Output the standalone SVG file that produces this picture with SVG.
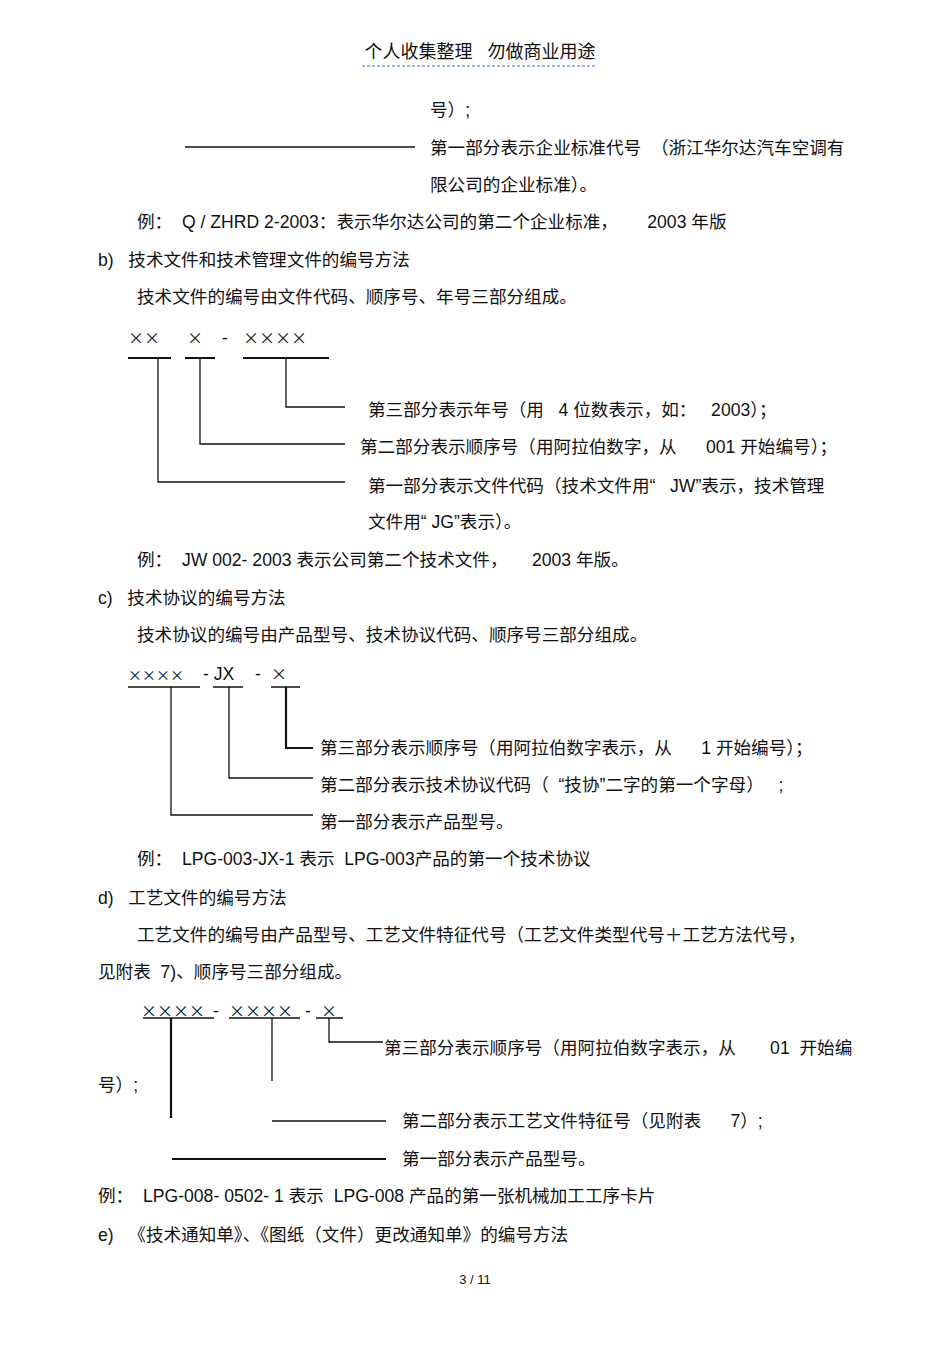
<svg xmlns="http://www.w3.org/2000/svg" width="950" height="1345" viewBox="0 0 950 1345">
<style>
text{font-family:"Liberation Sans","Noto Sans CJK SC",sans-serif;font-size:17.6px;fill:#111;white-space:pre}
.x{font-family:"Noto Sans CJK SC",sans-serif}
.ln{stroke:#111;stroke-width:1.3;fill:none}
.bk{stroke:#111;stroke-width:2.2;fill:none}
</style>
<rect width="950" height="1345" fill="#fff"/>
<g id="header"><text x="480" y="58" text-anchor="middle" style="font-size:18px">个人收集整理   勿做商业用途</text>
<line x1="362" y1="66" x2="597" y2="66" stroke="#4060d0" stroke-width="1" stroke-dasharray="3,2"/></g>
<g id="body" xml:space="preserve">
<text x="430" y="116">号）;</text>
<text x="430" y="154">第一部分表示企业标准代号  （浙江华尔达汽车空调有</text>
<text x="430" y="191">限公司的企业标准）。</text>
<text x="137" y="228">例：  Q / ZHRD 2-2003：表示华尔达公司的第二个企业标准，      2003 年版</text>
<text x="98" y="266">b)   技术文件和技术管理文件的编号方法</text>
<text x="137" y="303">技术文件的编号由文件代码、顺序号、年号三部分组成。</text>
<text class="x" x="128" y="344" style="font-size:16px">××</text>
<text class="x" x="187" y="344" style="font-size:16px">×</text>
<text x="222" y="344">-</text>
<text class="x" x="243" y="344" style="font-size:16px">××××</text>
<text x="368" y="416">第三部分表示年号（用   4 位数表示，如：   2003）；</text>
<text x="360" y="453">第二部分表示顺序号（用阿拉伯数字，从      001 开始编号）；</text>
<text x="368" y="492">第一部分表示文件代码（技术文件用“   JW”表示，技术管理</text>
<text x="368" y="528">文件用“ JG”表示）。</text>
<text x="137" y="566">例：  JW 002- 2003 表示公司第二个技术文件，     2003 年版。</text>
<text x="98" y="604">c)   技术协议的编号方法</text>
<text x="137" y="641">技术协议的编号由产品型号、技术协议代码、顺序号三部分组成。</text>
<text class="x" x="128" y="680" style="font-size:14px">××××</text>
<text x="203" y="680">- JX</text>
<text x="255" y="680">-</text>
<text class="x" x="271" y="680" style="font-size:16px">×</text>
<text x="320" y="754">第三部分表示顺序号（用阿拉伯数字表示，从      1 开始编号）；</text>
<text x="320" y="791">第二部分表示技术协议代码（  “技协”二字的第一个字母）   ;</text>
<text x="320" y="828">第一部分表示产品型号。</text>
<text x="137" y="865">例：  LPG-003-JX-1 表示  LPG-003产品的第一个技术协议</text>
<text x="98" y="904">d)   工艺文件的编号方法</text>
<text x="137" y="941">工艺文件的编号由产品型号、工艺文件特征代号（工艺文件类型代号＋工艺方法代号，</text>
<text x="98" y="978">见附表  7)、顺序号三部分组成。</text>
<text class="x" x="141" y="1017" style="font-size:16px">××××</text>
<text x="213" y="1017">-</text>
<text class="x" x="229" y="1017" style="font-size:16px">××××</text>
<text x="305" y="1017">-</text>
<text class="x" x="321" y="1017" style="font-size:16px">×</text>
<text x="384" y="1054">第三部分表示顺序号（用阿拉伯数字表示，从       01  开始编</text>
<text x="98" y="1091">号）;</text>
<text x="402" y="1127">第二部分表示工艺文件特征号（见附表      7）;</text>
<text x="402" y="1165">第一部分表示产品型号。</text>
<text x="98" y="1202">例：  LPG-008- 0502- 1 表示  LPG-008 产品的第一张机械加工工序卡片</text>
<text x="98" y="1241">e)   《技术通知单》、《图纸（文件）更改通知单》的编号方法</text>
<text x="475" y="1284" text-anchor="middle" style="font-size:13px">3 / 11</text>
</g>
<g id="connectors">
<line class="ln" x1="185" y1="147" x2="415" y2="147"/>
<path class="bk" d="M128 358H171M185 358H215M243 358H329"/>
<path class="ln" d="M158 358V482H345M200 358V444H345M286 358V407H345"/>
<path class="ln" d="M128 687H200M213 687H243M271 687H300M171 687V815H313M229 687V778H313"/>
<path class="bk" d="M286 687V748H313"/>
<path class="ln" d="M143 1018H214M229 1018H300M316 1018H343M272 1018V1081M329 1018V1042H383M272 1121H386"/>
<path class="bk" d="M171 1018V1118M172 1159H386"/>
</g>
</svg>
